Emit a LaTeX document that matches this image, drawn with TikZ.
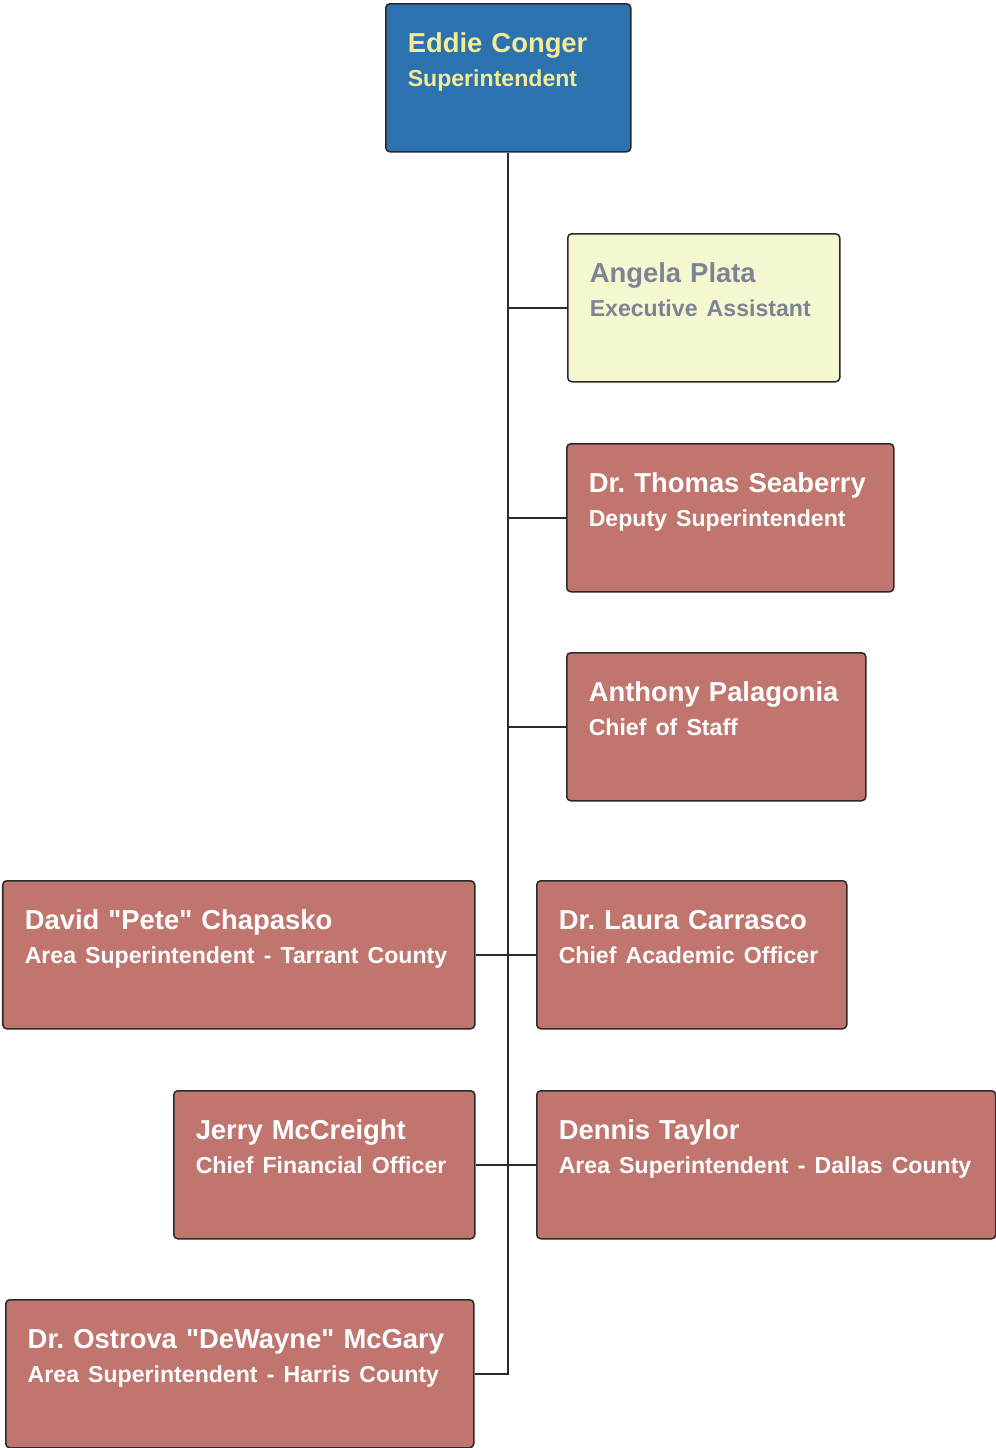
\documentclass[tikz,border=0pt]{standalone}
\usepackage{fontspec}
\setmainfont{Liberation Sans}
\usepackage{xcolor}
\usepackage{tikz}

\definecolor{chiefblue}{HTML}{2C72AF}
\definecolor{chieftext}{HTML}{F3EC95}
\definecolor{assistfill}{HTML}{F4F7CF}
\definecolor{assisttext}{HTML}{7D8594}
\definecolor{staffrose}{HTML}{C0756F}
\definecolor{boxline}{HTML}{2A2A2A}

\tikzset{
    staff/.style={draw=boxline, line width=0.75pt, rounded corners=2pt,
        anchor=north west, align=left, inner xsep=11pt, inner ysep=0pt,
        fill=staffrose, text=white,
        font=\fontsize{13.7}{17}\selectfont\bfseries\frenchspacing},
    link/.style={draw=boxline, line width=1pt}
}
\newcommand{\who}[1]{\rule{0pt}{24.5pt}\mbox{#1}}
\newcommand{\role}[1]{\mbox{\fontsize{11.55}{14}\selectfont #1}\rule[-32.5pt]{0pt}{32.5pt}}

\begin{document}
\begin{tikzpicture}[x=0.5pt, y=-0.5pt]
    \useasboundingbox (0,0) rectangle (996,1448);

    % top of the chart
    \node[staff, fill=chiefblue, text=chieftext, text width=100.5pt] (conger) at (385,3)
        {\who{Eddie Conger}\\ \role{Superintendent}};

    % right column
    \node[staff, fill=assistfill, text=assisttext, text width=114pt] (plata) at (567,233)
        {\who{Angela Plata}\\ \role{Executive Assistant}};
    \node[staff, text width=141.5pt] (seaberry) at (566,443)
        {\who{Dr. Thomas Seaberry}\\ \role{Deputy Superintendent}};
    \node[staff, text width=127.5pt] (palagonia) at (566,652)
        {\who{Anthony Palagonia}\\ \role{Chief of Staff}};
    \node[staff, text width=133pt] (carrasco) at (536,880)
        {\who{Dr. Laura Carrasco}\\ \role{Chief Academic Officer}};
    \node[staff, text width=207.5pt] (taylor) at (536,1090)
        {\who{Dennis Taylor}\\ \role{Area Superintendent - Dallas County}};

    % left column
    \node[staff, text width=214pt] (chapasko) at (2,880)
        {\who{David \textquotedbl Pete\textquotedbl{} Chapasko}\\ \role{Area Superintendent - Tarrant County}};
    \node[staff, text width=128.5pt] (mccreight) at (173,1090)
        {\who{Jerry McCreight}\\ \role{Chief Financial Officer}};
    \node[staff, text width=212pt] (mcgary) at (5,1299)
        {\who{Dr. Ostrova \textquotedbl DeWayne\textquotedbl{} McGary}\\ \role{Area Superintendent - Harris County}};

    % trunk and branches
    \draw[link] (conger.south) |- (mcgary.east);
    \draw[link] (plata.west) -- (plata.west -| conger.south);
    \draw[link] (seaberry.west) -- (seaberry.west -| conger.south);
    \draw[link] (palagonia.west) -- (palagonia.west -| conger.south);
    \draw[link] (chapasko.east) -- (carrasco.west);
    \draw[link] (mccreight.east) -- (taylor.west);
\end{tikzpicture}
\end{document}
